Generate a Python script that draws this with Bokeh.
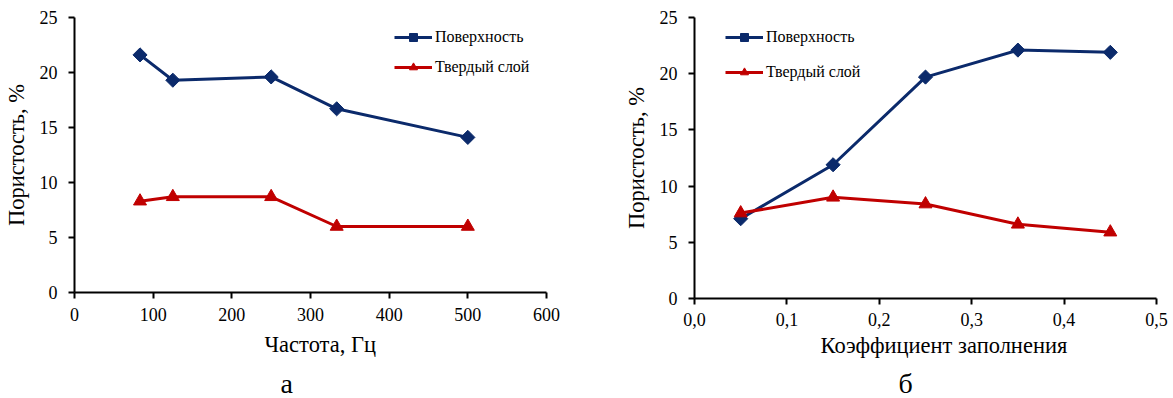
import numpy as np
from bokeh.plotting import figure
from bokeh.layouts import row
from bokeh.models import Range1d, FixedTicker, Legend, LegendItem, Title
from bokeh.embed import file_html
from bokeh.resources import INLINE

# ---- data (a) ----
freq = [83.3, 125, 250, 333.3, 500]
surf_a = [21.6, 19.3, 19.6, 16.7, 14.1]
solid_a = [8.3, 8.7, 8.7, 6.0, 6.0]

# ---- data (б) ----
fill = [0.05, 0.15, 0.25, 0.35, 0.45]
surf_b = [7.1, 11.9, 19.7, 22.1, 21.9]
solid_b = [7.6, 9.0, 8.4, 6.6, 5.9]

x_ticks_a = [0, 100, 200, 300, 400, 500, 600]
x_ticks_b = [0.0, 0.1, 0.2, 0.3, 0.4, 0.5]
x_tick_labels_b = ["0,0", "0,1", "0,2", "0,3", "0,4", "0,5"]
y_ticks = [0, 5, 10, 15, 20, 25]

series_names = ["Поверхность", "Твердый слой"]
NAVY = "#0B2A6B"
RED = "#C00000"
FONT = "'Liberation Serif'"


def make_fig(fw, fh, bl, br, bt, bb, xr, xticks, xlabel, caption,
             mls, xt_standoff, xt_offset, cap_standoff, cap_offset):
    p = figure(frame_width=fw, frame_height=fh, output_backend="svg", toolbar_location=None,
               x_range=Range1d(*xr), y_range=Range1d(0, 25),
               min_border_left=bl, min_border_right=br, min_border_top=bt, min_border_bottom=bb)
    p.outline_line_color = None
    p.grid.grid_line_color = None
    p.background_fill_color = "white"
    p.border_fill_color = "white"
    for ax in (p.xaxis[0], p.yaxis[0]):
        ax.axis_line_color = "black"
        ax.axis_line_width = 2
        ax.major_tick_line_color = "black"
        ax.major_tick_line_width = 2
        ax.major_tick_out = 6
        ax.major_tick_in = 0
        ax.minor_tick_line_color = None
        ax.major_label_text_font = FONT
        ax.major_label_text_font_size = "18px"
        ax.major_label_text_color = "black"
        ax.axis_label_text_font = FONT
        ax.axis_label_text_font_size = "22.5px"
        ax.axis_label_text_font_style = "normal"
        ax.axis_label_text_color = "black"
    p.xaxis.ticker = FixedTicker(ticks=xticks)
    p.yaxis.ticker = FixedTicker(ticks=y_ticks)
    p.yaxis.axis_label = "Пористость, %"
    p.xaxis.major_label_standoff = mls
    p.yaxis.major_label_standoff = 11
    p.yaxis.axis_label_standoff = 8
    xt = Title(text=xlabel, align="left", text_font=FONT, text_font_size="22.5px",
               text_font_style="normal", text_color="black", offset=xt_offset,
               standoff=xt_standoff)
    p.add_layout(xt, "below")
    cap = Title(text=caption, align="left", text_font=FONT, text_font_size="28px",
                text_font_style="normal", text_color="black", offset=cap_offset,
                standoff=cap_standoff)
    p.add_layout(cap, "below")
    return p


def add_series(p, xs, s1, s2, legend_loc, spacing):
    l1 = p.line(xs, s1, line_color=NAVY, line_width=3)
    m1 = p.scatter(xs, s1, marker="square", angle=np.pi / 4, size=10,
                   fill_color=NAVY, line_color=NAVY, line_width=1)
    l2 = p.line(xs, s2, line_color=RED, line_width=3)
    m2 = p.scatter(xs, s2, marker="triangle", size=13,
                   fill_color=RED, line_color=RED, line_width=1)
    leg = Legend(items=[LegendItem(label=series_names[0], renderers=[l1, m1]),
                        LegendItem(label=series_names[1], renderers=[l2, m2])],
                 location=legend_loc, background_fill_alpha=0, border_line_color=None,
                 label_text_font=FONT, label_text_font_size="16px", label_text_color="black",
                 glyph_width=38, glyph_height=20, spacing=spacing, padding=0, margin=0,
                 label_standoff=3)
    p.add_layout(leg, "center")


pa = make_fig(472, 275, 73, 74, 17, 90, (0, 600), x_ticks_a, "Частота, Гц", "а",
              9, 12, 190, 6, 206)
add_series(pa, freq, surf_a, solid_a, (320, 215), 10)

pb = make_fig(462, 281, 66, 13, 17, 84, (0, 0.5), x_ticks_b, "Коэффициент заполнения", "б",
              8, 4, 126, 12, 204)
pb.xaxis.major_label_overrides = dict(zip(x_ticks_b, x_tick_labels_b))
add_series(pb, fill, surf_b, solid_b, (31, 216), 15)

layout = row(pa, pb)
open("out.html", "w").write(file_html(layout, INLINE))
